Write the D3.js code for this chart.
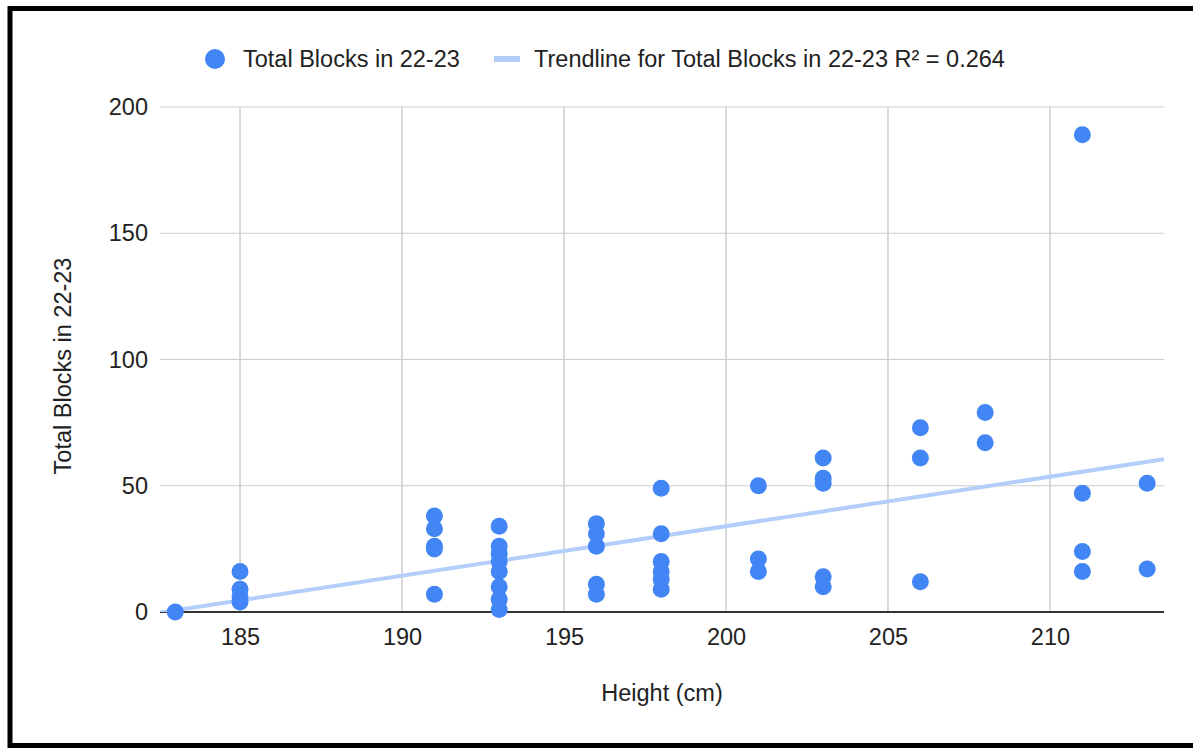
<!DOCTYPE html>
<html><head><meta charset="utf-8">
<script src="https://cdn.jsdelivr.net/npm/d3@7"></script>
<style>body{margin:0;background:#fff}svg{display:block}text{font-family:"Liberation Sans",Arial,sans-serif}</style>
</head><body>
<script>
const heights = [183,185,185,185,185,191,191,191,191,191,193,193,193,193,193,193,193,193,196,196,196,196,196,198,198,198,198,198,198,201,201,201,203,203,203,203,203,206,206,206,208,208,211,211,211,211,213,213];
const blocks  = [0,16,9,6,4,38,33,26,25,7,34,26,23,20,16,10,5,1,35,31,26,11,7,49,31,20,16,13,9,50,21,16,61,53,51,14,10,73,61,12,79,67,189,47,24,16,51,17];
const xTicks = [185,190,195,200,205,210];
const yTicks = [0,50,100,150,200];
const seriesName = "Total Blocks in 22-23";
const trendName = "Trendline for Total Blocks in 22-23 R² = 0.264";

const W=1193,H=748;
const svg=d3.select("body").append("svg").attr("width",W).attr("height",H);
const x=d3.scaleLinear().domain([182.53,213.52]).range([160,1164]);
const y=d3.scaleLinear().domain([0,200]).range([612,107]);
const FS=23.5;

// frame
svg.append("rect").attr("x",10).attr("y",8.5).attr("width",1300).attr("height",737).attr("fill","none").attr("stroke","#000").attr("stroke-width",5);

// grid
const gh=svg.append("g");
svg.append("g").selectAll("line").data(xTicks).join("line")
 .attr("x1",d=>x(d)).attr("x2",d=>x(d)).attr("y1",107).attr("y2",611)
 .attr("stroke","#ccc").attr("stroke-width",1.5);
gh.selectAll("line").data(yTicks).join("line")
 .attr("x1",160).attr("x2",1164).attr("y1",d=>y(d)).attr("y2",d=>y(d))
 .attr("stroke",d=>d===0?"#333":"#ccc").attr("stroke-width",d=>d===0?2:1);
gh.raise();

// axes labels
const xAxis=d3.axisBottom(x).tickValues(xTicks).tickSize(0).tickPadding(14);
const gx=svg.append("g").attr("transform","translate(0,614)").call(xAxis);
gx.select(".domain").remove();
gx.selectAll("text").attr("font-size",FS).attr("fill","#222").style("font-family","Liberation Sans, Arial, sans-serif");
const yAxis=d3.axisLeft(y).tickValues(yTicks).tickSize(0).tickPadding(12);
const gy=svg.append("g").attr("transform","translate(160,0)").call(yAxis);
gy.select(".domain").remove();
gy.selectAll("text").attr("font-size",FS).attr("fill","#222").style("font-family","Liberation Sans, Arial, sans-serif");

svg.append("text").attr("x",662).attr("y",701).attr("text-anchor","middle").attr("font-size",FS).attr("fill","#222").text("Height (cm)");
svg.append("text").attr("transform","translate(71,366) rotate(-90)").attr("text-anchor","middle").attr("font-size",FS).attr("fill","#222").text("Total Blocks in 22-23");

// trendline (least squares)
const mx=d3.mean(heights),my=d3.mean(blocks);
let sxy=0,sxx=0;heights.forEach((h,i)=>{sxy+=(h-mx)*(blocks[i]-my);sxx+=(h-mx)*(h-mx);});
const slope=sxy/sxx,intercept=my-slope*mx;
svg.append("clipPath").attr("id","clip").append("rect").attr("x",160).attr("y",107).attr("width",1004).attr("height",505);
svg.append("line").attr("clip-path","url(#clip)")
 .attr("x1",x(x.domain()[0])).attr("y1",y(intercept+slope*x.domain()[0]))
 .attr("x2",x(x.domain()[1])).attr("y2",y(intercept+slope*x.domain()[1]))
 .attr("stroke","#b3cefb").attr("stroke-width",4);

// points
svg.append("g").selectAll("circle").data(heights.map((h,i)=>[h,blocks[i]])).join("circle")
 .attr("cx",d=>x(d[0])).attr("cy",d=>y(d[1])).attr("r",8.5).attr("fill","#4285f4");

// legend
svg.append("circle").attr("cx",215).attr("cy",59).attr("r",10).attr("fill","#4285f4");
svg.append("text").attr("x",243).attr("y",67).attr("font-size",FS).attr("fill","#222").text(seriesName);
svg.append("rect").attr("x",494).attr("y",56).attr("width",26).attr("height",6).attr("fill","#b3cefb");
svg.append("text").attr("x",534).attr("y",67).attr("font-size",FS).attr("fill","#222").text(trendName);
</script>
</body></html>
